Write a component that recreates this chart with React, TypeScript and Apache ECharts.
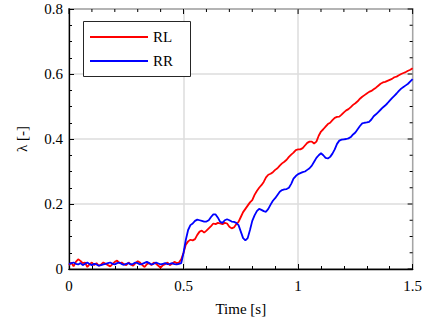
import React, { useEffect, useRef } from "react";
import * as echarts from "echarts";

// sample time step 0.01 s, from 0 to 1.5 s
const timeStep = 0.01;
const seriesNames = ["RL", "RR"];
const seriesColors = ["#ff0000", "#0000ff"];

const valuesRL = [
  0.012, 0.02, 0.008, 0.022, 0.03, 0.025, 0.018, 0.02, 0.006, 0.015,
  0.02, 0.012, 0.018, 0.01, 0.014, 0.02, 0.016, 0.012, 0.008, 0.015,
  0.022, 0.026, 0.018, 0.02, 0.015, 0.012, 0.02, 0.014, 0.01, 0.018,
  0.024, 0.02, 0.012, 0.006, 0.015, 0.018, 0.012, 0.02, 0.016, 0.01,
  0.004, 0.012, 0.015, 0.02, 0.012, 0.016, 0.022, 0.018, 0.02, 0.03,
  0.05, 0.075, 0.085, 0.09, 0.088, 0.092, 0.105, 0.115, 0.118, 0.112,
  0.118, 0.125, 0.132, 0.14, 0.138, 0.142, 0.14, 0.138, 0.142, 0.14,
  0.13, 0.125, 0.128, 0.138, 0.145, 0.16, 0.175, 0.185, 0.195, 0.205,
  0.212, 0.228, 0.24, 0.25, 0.258, 0.268, 0.282, 0.29, 0.293, 0.298,
  0.305, 0.31, 0.318, 0.325, 0.33, 0.336, 0.345, 0.352, 0.358, 0.366,
  0.368, 0.368, 0.372, 0.38, 0.388, 0.392, 0.392, 0.386, 0.392, 0.41,
  0.423, 0.43, 0.438, 0.446, 0.45, 0.458, 0.465, 0.468, 0.469, 0.475,
  0.482, 0.488, 0.492, 0.498, 0.505, 0.51, 0.516, 0.524, 0.53, 0.535,
  0.54, 0.545, 0.548, 0.553, 0.558, 0.564, 0.57, 0.574, 0.576, 0.579,
  0.582, 0.585, 0.59, 0.592, 0.596, 0.6, 0.603, 0.606, 0.61, 0.613,
  0.618,
];

const valuesRR = [
  0.015, 0.018, 0.02, 0.016, 0.014, 0.018, 0.012, 0.016, 0.02, 0.015,
  0.012, 0.016, 0.014, 0.01, 0.012, 0.014, 0.016, 0.018, 0.02, 0.016,
  0.014, 0.018, 0.02, 0.015, 0.013, 0.016, 0.018, 0.014, 0.016, 0.02,
  0.018, 0.014, 0.016, 0.019, 0.022, 0.018, 0.014, 0.016, 0.02, 0.017,
  0.014, 0.016, 0.018, 0.015, 0.016, 0.018, 0.015, 0.014, 0.016, 0.018,
  0.05, 0.09, 0.12, 0.135, 0.14, 0.148, 0.152, 0.15, 0.148, 0.146,
  0.146, 0.15, 0.16, 0.168, 0.168, 0.158, 0.145, 0.142, 0.15, 0.153,
  0.15, 0.146, 0.145, 0.142, 0.135, 0.115, 0.095, 0.088, 0.095, 0.12,
  0.148, 0.165, 0.178, 0.185, 0.182, 0.178, 0.176, 0.185, 0.198, 0.21,
  0.218, 0.228, 0.238, 0.243, 0.245, 0.246, 0.25, 0.262, 0.278, 0.286,
  0.292, 0.295, 0.298, 0.3, 0.305, 0.31, 0.318, 0.33, 0.342, 0.35,
  0.356, 0.35, 0.342, 0.34, 0.345, 0.355, 0.368, 0.385, 0.395, 0.398,
  0.399, 0.4, 0.402, 0.406, 0.414, 0.42, 0.43, 0.44, 0.448, 0.45,
  0.451, 0.453, 0.46, 0.47, 0.476, 0.483, 0.49, 0.497, 0.503, 0.51,
  0.518, 0.526, 0.533, 0.54, 0.548, 0.555, 0.56, 0.565, 0.57, 0.577,
  0.584,
];

const xTicks = [0, 0.5, 1, 1.5];
const yTicks = [0, 0.2, 0.4, 0.6, 0.8];
const xMinorStep = 0.1;
const yMinorStep = 0.05;

const FONT = "Liberation Serif";

export default function App() {
  const ref = useRef<HTMLDivElement>(null);
  useEffect(() => {
    if (!ref.current) return;
    const chart = echarts.init(ref.current, null, { renderer: "svg" });
    const pair = (vals: number[]) =>
      vals.map((v, i) => [Math.round(i * timeStep * 100) / 100, v]);
    const tickStyle = { show: true, inside: true, length: 5, lineStyle: { color: "#000", width: 1 } };
    const minorStyle = { show: true, length: 3, lineStyle: { color: "#000", width: 1 } };
    const axisLine = { show: true, onZero: false, lineStyle: { color: "#000", width: 1.3 } };
    const split = { show: true, lineStyle: { color: "#dcdcdc", width: 1.5 } };
    const txt = { fontFamily: FONT, fontSize: 15, color: "#000" };

    chart.setOption({
      animation: false,
      backgroundColor: "#fff",
      textStyle: { fontFamily: FONT },
      grid: { left: 69, right: 7, top: 9, bottom: 60, show: true, borderColor: "#000", borderWidth: 1.3, backgroundColor: "transparent" },
      xAxis: {
        type: "value",
        min: 0,
        max: 1.5,
        interval: 0.5,
        name: "Time [s]",
        nameLocation: "middle",
        nameGap: 32,
        nameTextStyle: txt,
        axisLine,
        axisTick: tickStyle,
        minorTick: { ...minorStyle, splitNumber: 5 },
        splitLine: split,
        axisLabel: {
          ...txt,
          margin: 9,
          formatter: (v: number) => (xTicks.includes(v) ? String(v) : ""),
        },
      },
      yAxis: {
        type: "value",
        min: 0,
        max: 0.8,
        interval: 0.2,
        name: "λ [-]",
        nameLocation: "middle",
        nameGap: 40,
        nameTextStyle: txt,
        axisLine,
        axisTick: tickStyle,
        minorTick: { ...minorStyle, splitNumber: 4 },
        splitLine: split,
        axisLabel: {
          ...txt,
          margin: 6,
          formatter: (v: number) => {
            const t = yTicks.find((y) => Math.abs(y - v) < 1e-9);
            return t === undefined ? "" : String(t);
          },
        },
      },
      series: [
        {
          name: seriesNames[0],
          type: "line",
          data: pair(valuesRL),
          symbol: "none",
          lineStyle: { color: seriesColors[0], width: 1.8 },
          itemStyle: { color: seriesColors[0] },
          z: 3,
        },
        {
          name: seriesNames[1],
          type: "line",
          data: pair(valuesRR),
          symbol: "none",
          lineStyle: { color: seriesColors[1], width: 1.8 },
          itemStyle: { color: seriesColors[1] },
          z: 4,
        },
      ],
    });

    // top / right ticks mirrored from the axes' own scales
    const toPx = (x: number, y: number) => chart.convertToPixel({ gridIndex: 0 }, [x, y]) as number[];
    const [, topPx] = toPx(0, 0.8);
    const [rightPx] = toPx(1.5, 0);
    const tickEls: any[] = [];
    const xMax = 1.5;
    const yMax = 0.8;
    for (let k = 0; k * xMinorStep <= xMax + 1e-9; k++) {
      const v = Math.round(k * xMinorStep * 100) / 100;
      const major = xTicks.some((t) => Math.abs(t - v) < 1e-9);
      const [px] = toPx(v, 0);
      tickEls.push({
        type: "line",
        shape: { x1: px, y1: topPx, x2: px, y2: topPx + (major ? 5 : 3) },
        style: { stroke: "#000", lineWidth: 1 },
      });
    }
    for (let k = 0; k * yMinorStep <= yMax + 1e-9; k++) {
      const v = Math.round(k * yMinorStep * 100) / 100;
      const major = yTicks.some((t) => Math.abs(t - v) < 1e-9);
      const [, py] = toPx(0, v);
      tickEls.push({
        type: "line",
        shape: { x1: rightPx, y1: py, x2: rightPx - (major ? 5 : 3), y2: py },
        style: { stroke: "#000", lineWidth: 1 },
      });
    }

    // legend box drawn as graphic
    const legendBox = { x: 83, y: 21, w: 107, h: 55 };
    const legendEls: any[] = [
      {
        type: "rect",
        shape: { x: legendBox.x + 0.5, y: legendBox.y + 0.5, width: legendBox.w, height: legendBox.h },
        style: { fill: "#fff", stroke: "#262626", lineWidth: 1 },
      },
    ];
    seriesNames.forEach((name, i) => {
      const cy = legendBox.y + 16 + i * 24;
      legendEls.push({
        type: "line",
        shape: { x1: legendBox.x + 7, y1: cy, x2: legendBox.x + 65, y2: cy },
        style: { stroke: seriesColors[i], lineWidth: 1.8 },
      });
      legendEls.push({
        type: "text",
        x: legendBox.x + 70,
        y: cy,
        style: { text: name, fontFamily: FONT, fontSize: 15, fill: "#000", verticalAlign: "middle", align: "left" },
      });
    });

    chart.setOption({
      graphic: [
        { type: "group", id: "ticks", z: 50, children: tickEls },
        { type: "group", id: "legend", z: 100, children: legendEls },
      ],
    });
    return () => chart.dispose();
  }, []);
  return <div ref={ref} style={{ width: 425, height: 329, position: "fixed", left: 0, top: 0 }} />;
}
